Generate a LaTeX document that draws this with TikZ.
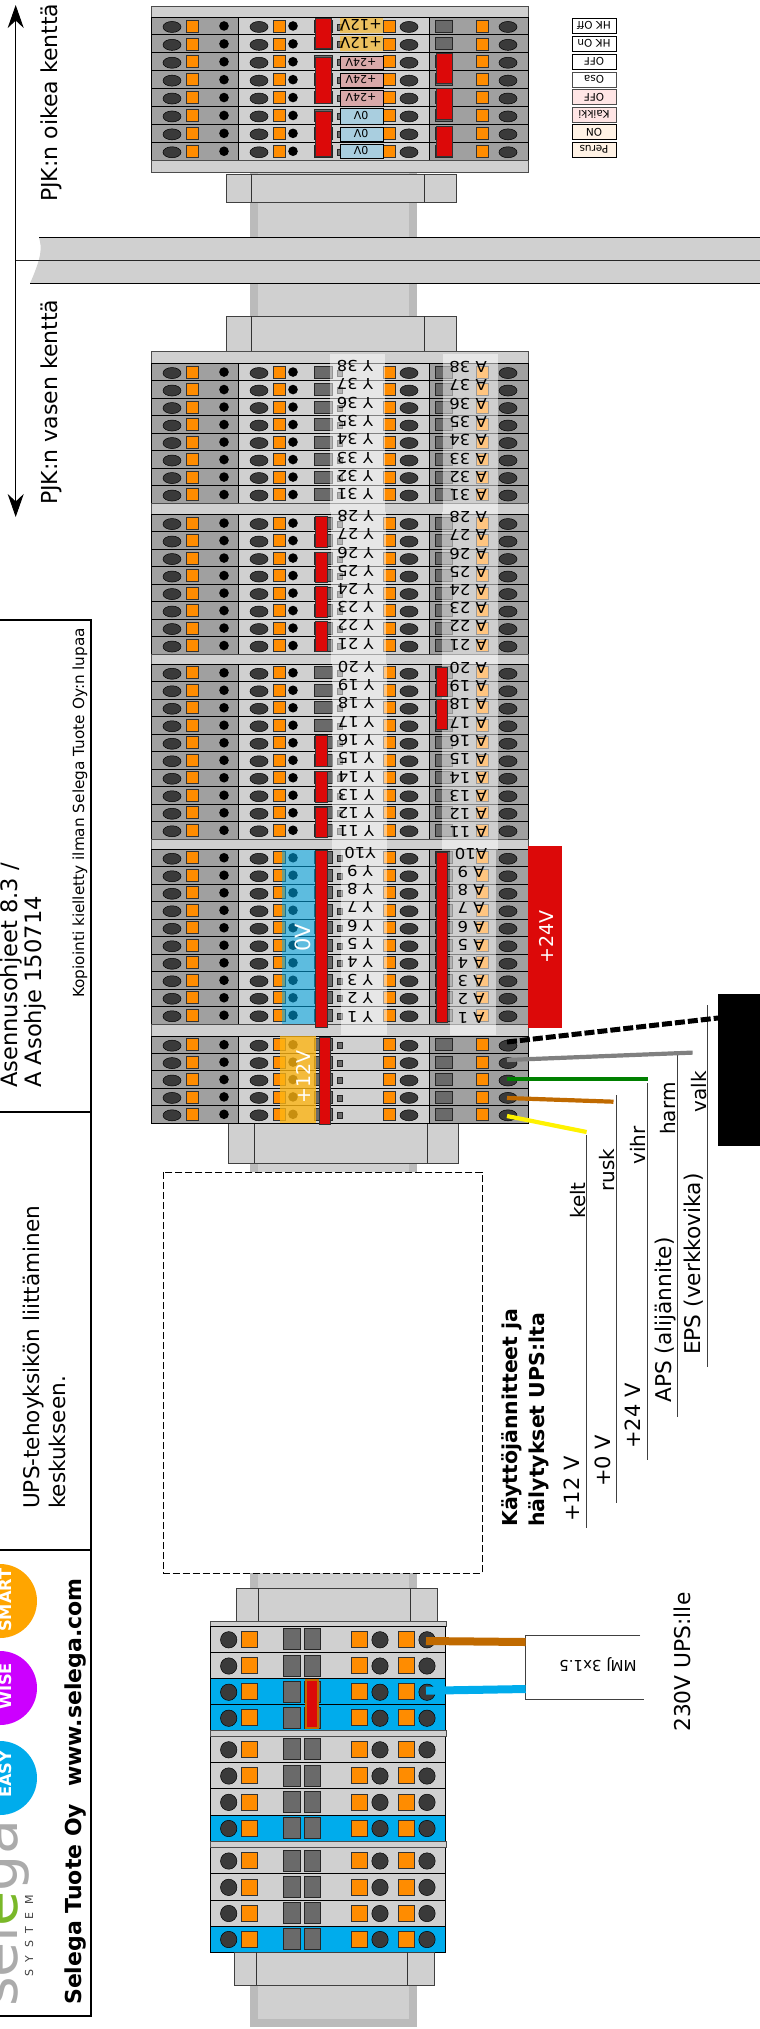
\documentclass[tikz,border=0pt]{standalone}
\usepackage{fontspec}
\setmainfont{DejaVu Sans}
\usetikzlibrary{arrows,arrows.meta}
\definecolor{segdark}{HTML}{A0A0A0}
\definecolor{seglight}{HTML}{D0D0D0}
\definecolor{railside}{HTML}{BBBBBB}
\definecolor{clamp}{HTML}{FF8C00}
\definecolor{hole}{HTML}{3A3A3A}
\definecolor{slot}{HTML}{6A6A6A}
\definecolor{jumper}{HTML}{DC0909}
\definecolor{skyblue}{HTML}{00ACEC}
\definecolor{wirebrown}{HTML}{C06A00}
\definecolor{logogreen}{HTML}{7AB829}
\definecolor{amber}{HTML}{FEB614}
\definecolor{smartcol}{HTML}{FFA500}
\definecolor{wisecol}{HTML}{CC00FF}
\newcommand{\fs}[1]{\fontsize{#1}{#1}\selectfont}
\newcommand{\termrow}[2]{%
	\pgfmathsetmacro{\cy}{(#1+#2)/2}
	\path[darkseg] (151.5,#1) rectangle (238.5,#2);
	\path[lightseg] (238.5,#1) rectangle (429.7,#2);
	\path[darkseg] (429.7,#1) rectangle (528,#2);
	\foreach \ox in {172,259,409,508} {\path[oval] (\ox,\cy+1) ellipse (9pt and 5.5pt);}
	\foreach \ox in {192,279,389,482} {\path[clampbox] (\ox-6,\cy-6) rectangle (\ox+6,\cy+6);}
	\foreach \ox in {224,293} {\path[fill=black] (\ox,\cy) ellipse (4.8pt and 4.8pt);}
	\path[slotbox] (314,\cy-6) rectangle (332,\cy+6);
	\path[slotbox] (435,\cy-6) rectangle (452,\cy+6);
	\path[slotbox] (337,\cy-2) rectangle (342,\cy+4);
}
\newcommand{\lowrow}[3]{%
	\pgfmathsetmacro{\cy}{(#1+#2)/2}
	\path[fill=#3, draw=black, line width=0.9] (210.7,#1) rectangle (445.3,#2);
	\foreach \ox in {228.7,380,427} {\path[oval] (\ox,\cy+0.5) circle (8.2pt);}
	\foreach \ox in {249.7,359,406} {\path[clampbox] (\ox-8,\cy-8) rectangle (\ox+8,\cy+8);}
	\path[slotbox] (283.5,\cy-10.5) rectangle (300,\cy+10.5);
	\path[slotbox] (304.5,\cy-10.5) rectangle (320.7,\cy+10.5);
}
\begin{document}
\begin{tikzpicture}[x=1pt, y=-1pt, >=stealth]
	\tikzstyle{darkseg} = [fill=segdark, draw=black, line width=0.9]
	\tikzstyle{lightseg} = [fill=seglight, draw=black, line width=0.9]
	\tikzstyle{strip} = [fill=seglight, draw=black!70, line width=0.7]
	\tikzstyle{oval} = [fill=hole, draw=black, line width=0.5]
	\tikzstyle{clampbox} = [fill=clamp, draw=black!80, line width=0.7]
	\tikzstyle{slotbox} = [fill=slot, draw=black!85, line width=0.8]
	\tikzstyle{link} = [fill=jumper, draw=black!80, line width=1]
	\tikzstyle{stopper} = [fill=seglight, draw=black!75, line width=0.8]
	\tikzstyle{wire} = [line width=4.2]
	\tikzstyle{thinlead} = [draw=black!75, line width=0.9]
	\tikzstyle{sheen} = [fill=white, opacity=0.5]
	\tikzstyle{vtxt} = [rotate=90, anchor=base west, inner sep=0pt]
	\tikzstyle{flipped} = [rotate=180, xscale=1.1, transform shape, inner sep=0pt, font=\fs{15}]
	\tikzstyle{plain} = [rotate=180, inner sep=0pt]
	\tikzstyle{tag} = [rotate=180, draw=black, line width=0.9, minimum width=44pt, minimum height=15pt, inner sep=0pt, font=\fs{10.5}]
	\tikzstyle{supply} = [rotate=90, text=white, inner sep=0pt]
	\tikzstyle{badge} = [vtxt, font=\fs{16.3}\bfseries, text=white]
	\tikzstyle{frameline} = [line width=1.8, draw=black]

	\useasboundingbox (0,0) rectangle (760,2029);

	% rail
	\path[fill=railside] (250,165) rectangle (416.5,351);
	\path[fill=seglight] (257.5,165) rectangle (408.7,351);
	\path[fill=railside] (250,1120) rectangle (416.5,1175);
	\path[fill=seglight] (257.5,1120) rectangle (408.7,1175);
	\path[fill=railside] (250,1570) rectangle (416.5,2027);
	\path[fill=seglight] (257.5,1570) rectangle (408.7,2019);

	% cross rail
	\path[fill=seglight] (39,237.5) .. controls (42,248) and (42,256) .. (30,283.5) -- (760,283.5) -- (760,237.5) -- cycle;
	\draw[line width=1] (39,237.5) -- (760,237.5);
	\draw[line width=1] (30,283.5) -- (760,283.5);
	\draw[line width=0.9, black!85] (15.7,260.7) -- (760,260.7);

	% direction arrows
	\coordinate (rightend) at (15.7,5);
	\coordinate (leftend) at (15.7,517);
	\coordinate (fieldmid) at (15.7,260.7);
	\draw[-{Stealth[length=23pt,width=16pt]}, line width=0.9] (fieldmid) -- (rightend);
	\draw[-{Stealth[length=23pt,width=16pt]}, line width=0.9] (fieldmid) -- (leftend);
	\node[vtxt, font=\fs{22}] (rightfield) at (57,202) {PJK:n oikea kenttä};
	\node[vtxt, font=\fs{22}] (leftfield) at (57,505) {PJK:n vasen kenttä};

	% end stops
	\path[stopper] (226,174) rectangle (456,202);
	\draw[line width=0.8, black!80] (251.6,174) -- (251.6,202) (424.6,174) -- (424.6,202);
	\path[stopper] (226,316) rectangle (456,351);
	\draw[line width=0.8, black!80] (251.6,316) -- (251.6,351) (424.6,316) -- (424.6,351);
	\path[stopper] (228.5,1123) rectangle (458,1163);
	\draw[line width=0.8, black!80] (254,1123) -- (254,1163) (427,1123) -- (427,1163);

	% right field block
	\path[strip] (151.5,6) rectangle (528,17);
	\foreach \i in {0,...,7} {
		\pgfmathsetmacro{\ya}{17+17.9*\i}
		\pgfmathsetmacro{\yb}{17+17.9*(\i+1)}
		\termrow{\ya}{\yb}
	}
	\path[strip] (151.5,160) rectangle (528,172);
	\path[fill=amber, opacity=0.6] (340,18) rectangle (383,33);
	\path[fill=amber, opacity=0.6] (340,36) rectangle (383,51);
	\node[plain, font=\fs{15}] (volt1) at (361,25) {+12V};
	\node[plain, font=\fs{15}] (volt2) at (361,43) {+12V};
	\foreach \ya/\yb/\tagfill/\tagtext [count=\i from 3] in {
		56/69/D9A9A9/+24V, 73/87/D9A9A9/+24V, 90/106/D9A9A9/+24V,
		108/124/A9CEDF/0V, 127/141/A9CEDF/0V, 144/158/A9CEDF/0V} {
		\definecolor{tagcol}{HTML}{\tagfill}
		\path[fill=tagcol, draw=black, line width=0.8] (340,\ya) rectangle (383,\yb);
		\node[plain, font=\fs{11}] (volt\i) at (361,{(\ya+\yb)/2}) {\tagtext};
	}
	\foreach \ya/\yb in {18/48, 57/103, 111/156} {\path[link] (315,\ya) rectangle (331,\yb);}
	\foreach \ya/\yb in {53/83, 88/119, 126/156} {\path[link] (436,\ya) rectangle (452,\yb);}

	% tags beside the block
	\node[tag] (hkoff) at (594,25.5) {HK Off};
	\node[tag] (hkon) at (594,43.5) {HK On};
	\node[tag] (off) at (594,61.5) {OFF};
	\node[tag, draw=black!70] (osa) at (594,79.5) {Osa};
	\node[tag, draw=black!70, fill=red!10] (offb) at (594,97) {OFF};
	\node[tag, draw=black!70, fill=red!10] (kaikki) at (594,114.5) {Kaikki};
	\node[tag, fill=orange!10] (on) at (594,132) {ON};
	\node[tag, fill=orange!10] (perus) at (594,149.5) {Perus};

	% left field block
	\path[strip] (151.5,351) rectangle (528,363.3);
	\foreach \i in {0,...,7} {
		\pgfmathsetmacro{\ya}{363.3+17.5*\i}
		\pgfmathsetmacro{\yb}{363.3+17.5*(\i+1)}
		\termrow{\ya}{\yb}
	}
	\path[strip] (151.5,503.3) rectangle (528,514.3);
	\foreach \i in {0,...,7} {
		\pgfmathsetmacro{\ya}{514.3+17.5*\i}
		\pgfmathsetmacro{\yb}{514.3+17.5*(\i+1)}
		\termrow{\ya}{\yb}
	}
	\path[strip] (151.5,654.3) rectangle (528,664);
	\foreach \i in {0,...,9} {
		\pgfmathsetmacro{\ya}{664+17.5*\i}
		\pgfmathsetmacro{\yb}{664+17.5*(\i+1)}
		\termrow{\ya}{\yb}
	}
	\path[strip] (151.5,839) rectangle (528,849);
	\foreach \i in {0,...,9} {
		\pgfmathsetmacro{\ya}{849+17.5*\i}
		\pgfmathsetmacro{\yb}{849+17.5*(\i+1)}
		\termrow{\ya}{\yb}
	}
	\path[strip] (151.5,1024) rectangle (528,1036);
	\foreach \i in {0,...,4} {
		\pgfmathsetmacro{\ya}{1036+17.4*\i}
		\pgfmathsetmacro{\yb}{1036+17.4*(\i+1)}
		\termrow{\ya}{\yb}
	}

	% supply bands
	\path[fill=skyblue, opacity=0.55] (282,850) rectangle (315,1024);
	\path[fill=amber, opacity=0.79] (280,1036) rectangle (316,1123);

	% label sheens
	\path[sheen] (330,354) rectangle (385,512);
	\path[sheen] (331,512) rectangle (386,664);
	\path[sheen] (332,664) rectangle (387,850);
	\path[sheen] (341,850) rectangle (387,1035);
	\path[sheen] (443,354) rectangle (498,512);
	\path[sheen] (442,512) rectangle (498,664);
	\path[sheen] (442,664) rectangle (498,850);
	\path[sheen] (450,850) rectangle (496,1035);

	% links
	\foreach \ya/\yb in {516/547, 552/582, 586/617, 621/651, 735/766, 771/802, 807/837, 850/1027} {\path[link] (315.5,\ya) rectangle (327,\yb);}
	\foreach \ya/\yb in {667/696, 699/729, 852/1022} {\path[link] (436,\ya) rectangle (447,\yb);}
	\path[link] (319,1037) rectangle (330,1124);

	% terminal labels
	\foreach \n in {38,37,...,31} {
		\pgfmathsetmacro{\ry}{366+18.3*(38-\n)}
		\node[flipped] (y\n) at (355,\ry) {Y \n};
		\node[flipped] (a\n) at (468,\ry+1) {A \n};
	}
	\foreach \n in {28,27,...,21} {
		\pgfmathsetmacro{\ry}{516+18.25*(28-\n)}
		\node[flipped] (y\n) at (355.5,\ry) {Y \n};
		\node[flipped] (a\n) at (468,\ry+1) {A \n};
	}
	\foreach \n in {20,19,...,11} {
		\pgfmathsetmacro{\ry}{666.7+18.3*(20-\n)}
		\node[flipped] (y\n) at (356,\ry) {Y \n};
		\node[flipped] (a\n) at (468,\ry+1) {A \n};
	}
	\node[flipped] (y10) at (360,853) {Y10};
	\node[flipped] (a10) at (471,854) {A10};
	\foreach \n in {9,8,...,1} {
		\pgfmathsetmacro{\ry}{871+18.2*(9-\n)}
		\node[flipped] (y\n) at (360,\ry) {Y \n};
		\node[flipped] (a\n) at (471,\ry+1) {A \n};
	}
	\node[supply, font=\fs{21}] (zero) at (303,938) {0V};
	\node[supply, font=\fs{19}] (twelve) at (303,1077) {+12V};

	% red supply tag
	\path[fill=jumper] (527.5,846) rectangle (562,1028);
	\node[supply, font=\fs{19}] (twentyfour) at (546,937) {+24V};

	% black device
	\path[fill=black] (718,994) rectangle (760,1146);

	% signal leads
	\coordinate (keltlead) at (586.7,1135);
	\coordinate (keltfoot) at (586.7,1528);
	\coordinate (ruskhead) at (616.5,1095);
	\coordinate (ruskfoot) at (616.5,1503);
	\coordinate (vihrhead) at (647,1083);
	\coordinate (vihrfoot) at (647,1460);
	\coordinate (harmhead) at (677,1055);
	\coordinate (harmfoot) at (677,1417);
	\coordinate (valkhead) at (707,1005);
	\coordinate (valkfoot) at (707,1367);
	\draw[thinlead] (keltlead) -- (keltfoot);
	\draw[thinlead] (ruskhead) -- (ruskfoot);
	\draw[thinlead] (vihrhead) -- (vihrfoot);
	\draw[thinlead] (harmhead) -- (harmfoot);
	\draw[thinlead] (valkhead) -- (valkfoot);

	% wires
	\coordinate (termvalk) at (507,1042);
	\coordinate (devvalk) at (718,1018);
	\coordinate (termharm) at (507,1060);
	\coordinate (endharm) at (692.6,1052.6);
	\coordinate (termvihr) at (507,1079);
	\coordinate (endvihr) at (648,1079);
	\coordinate (termrusk) at (507,1098);
	\coordinate (endrusk) at (613.5,1101.7);
	\coordinate (termkelt) at (507,1116);
	\coordinate (endkelt) at (586.6,1132);
	\draw[wire, line width=5, dash pattern=on 10pt off 3pt] (termvalk) -- (devvalk);
	\draw[wire, black!50] (termharm) -- (endharm);
	\draw[wire, green!50!black] (termvihr) -- (endvihr);
	\draw[wire, wirebrown] (termrusk) -- (endrusk);
	\draw[wire, yellow] (termkelt) -- (endkelt);

	\node[vtxt, font=\fs{20}] (kelt) at (585,1219) {kelt};
	\node[vtxt, font=\fs{20}] (rusk) at (614,1192) {rusk};
	\node[vtxt, font=\fs{20}] (vihr) at (645,1165) {vihr};
	\node[vtxt, font=\fs{20}] (harm) at (675.5,1135) {harm};
	\node[vtxt, font=\fs{20}] (valk) at (706,1112.7) {valk};
	\node[vtxt, font=\fs{21}] (plus12) at (579,1522) {+12 V};
	\node[vtxt, font=\fs{21}] (plus0) at (610,1487) {+0 V};
	\node[vtxt, font=\fs{21}] (plus24) at (640,1449) {+24 V};
	\node[vtxt, font=\fs{21.7}] (aps) at (671.6,1403) {APS (alijännite)};
	\node[vtxt, font=\fs{21.7}] (eps) at (700,1355) {EPS (verkkovika)};
	\node[vtxt, font=\fs{20.5}\bfseries] (headone) at (517.7,1527) {Käyttöjännitteet ja};
	\node[vtxt, font=\fs{20.5}\bfseries] (headtwo) at (544,1527) {hälytykset UPS:lta};

	% free space
	\path[fill=white, draw=black, line width=0.8, dash pattern=on 7pt off 3pt] (163.7,1172) rectangle (482,1573);

	% UPS block
	\path[stopper] (236.7,1588) rectangle (437,1621);
	\draw[line width=0.8, black!80] (258.7,1588) -- (258.7,1621) (410,1588) -- (410,1621);
	\path[strip] (210,1621) rectangle (446,1626.3);
	\foreach \ya/\yb/\rowfill in {1626.3/1652.3/seglight, 1652.3/1678.7/seglight, 1678.7/1704.7/skyblue, 1704.7/1730.7/skyblue,
		1736.3/1762.3/seglight, 1762.3/1788.7/seglight, 1788.7/1815/seglight, 1815/1841/skyblue,
		1847.3/1873.7/seglight, 1873.7/1900/seglight, 1900/1926/seglight, 1926/1952/skyblue} {
		\lowrow{\ya}{\yb}{\rowfill}
	}
	\path[strip] (210,1730.7) rectangle (446,1736.3);
	\path[strip] (210,1841) rectangle (446,1847.3);
	\path[fill=jumper, draw=wirebrown, line width=2] (305.5,1680) rectangle (318,1728);
	\path[stopper] (234,1952) rectangle (434.3,1985);
	\draw[line width=0.8, black!80] (256.3,1952) -- (256.3,1985) (407.7,1952) -- (407.7,1985);

	% mains cable
	\coordinate (cabletl) at (640,1635.7);
	\coordinate (cablelt) at (525.7,1635.7);
	\coordinate (cablelb) at (525.7,1699.7);
	\coordinate (cablebl) at (644,1699.7);
	\draw[line width=0.9, black!75, fill=white] (cabletl) -- (cablelt) -- (cablelb) -- (cablebl);
	\coordinate (termbrown) at (426,1641);
	\coordinate (cablebrown) at (525.7,1642);
	\coordinate (termblue) at (426,1690.7);
	\coordinate (cableblue) at (525.7,1689);
	\draw[wire, line width=8, wirebrown] (termbrown) -- (cablebrown);
	\draw[wire, line width=8, skyblue] (termblue) -- (cableblue);
	\node[plain, font=\fs{15}] (cablelabel) at (598,1665) {MMJ 3x1.5};
	\node[vtxt, font=\fs{21.8}] (upsfeed) at (690,1732) {230V UPS:lle};

	% title block
	\draw[frameline] (-2,620) -- (91,620) -- (91,2015.7) -- (-2,2015.7);
	\draw[frameline, line width=1.2] (-2,1112) -- (91,1112);
	\draw[frameline, line width=1.2] (-2,1550) -- (91,1550);
	\node[vtxt, font=\fs{22.6}] (docone) at (17,1088) {Asennusohjeet 8.3 /};
	\node[vtxt, font=\fs{22.6}] (doctwo) at (41.7,1088) {A Asohje 150714};
	\node[vtxt, font=\fs{15.3}] (copyright) at (84,998) {Kopiointi kielletty ilman Selega Tuote Oy:n lupaa};
	\node[vtxt, font=\fs{21.6}] (titleone) at (39,1509) {UPS-tehoyksikön liittäminen};
	\node[vtxt, font=\fs{21.6}] (titletwo) at (65,1509) {keskukseen.};

	% logo
	\node[vtxt, font=\fs{57}, text=black!33] (logoword) at (17,2007) {sel\textcolor{logogreen}{e}ga};
	\path[fill=smartcol] (0,1601) circle (37pt);
	\path[fill=wisecol] (0,1688) circle (37pt);
	\path[fill=skyblue] (0,1778) circle (37pt);
	\node[badge] (smart) at (11.8,1632) {SMART};
	\node[badge] (wise) at (11.8,1710) {WISE};
	\node[badge] (easy) at (11.8,1798) {EASY};
	\node[vtxt, font=\fs{11}\addfontfeature{LetterSpace=69}, text=black!75] (system) at (33,1977) {SYSTEM};
	\node[vtxt, font=\fs{22}\bfseries] (company) at (81,2005) {Selega Tuote Oy};
	\node[vtxt, font=\fs{22}\bfseries] (website) at (81,1787) {www.selega.com};
\end{tikzpicture}
\end{document}
